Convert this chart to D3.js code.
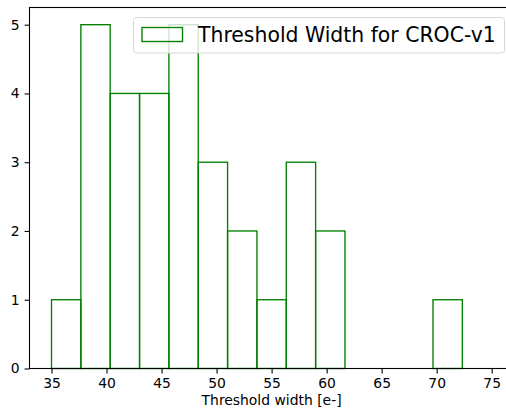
<!DOCTYPE html>
<html>
<head>
<meta charset="utf-8">
<script src="https://cdn.jsdelivr.net/npm/d3@7"></script>
<style>
  body { margin: 0; background: #fff; }
  svg { display: block; font-family: "DejaVu Sans", sans-serif; }
</style>
</head>
<body>
<svg id="chart" width="506" height="409"></svg>
<script>
// histogram bins (edges) and counts
const binEdges = [35, 37.667, 40.333, 43, 45.667, 48.333, 51, 53.667, 56.333, 59, 61.667, 64.333, 67, 69.667, 72.333, 75];
const counts = [1, 5, 4, 4, 5, 3, 2, 1, 3, 2, 0, 0, 0, 1, 0];
const xTicks = [35, 40, 45, 50, 55, 60, 65, 70, 75];
const yTicks = [0, 1, 2, 3, 4, 5];
const legendLabel = "Threshold Width for CROC-v1";
const xLabel = "Threshold width [e-]";

let svg = d3.select("#chart");
let margin = { left: 29.5, top: 7.5 };
let plotW = 484.2, plotH = 361;

let x = d3.scaleLinear().domain([33, 77]).range([margin.left, margin.left + plotW]);
let y = d3.scaleLinear().domain([0, 5.25]).range([margin.top + plotH, margin.top]);

let bins = counts.map(function (c, i) {
    return { x0: binEdges[i], x1: binEdges[i + 1], count: c };
});

// bars
svg.append("g")
    .selectAll("rect")
    .data(bins.filter(function (d) { return d.count > 0; }))
    .join("rect")
    .attr("x", function (d) { return x(d.x0); })
    .attr("y", function (d) { return y(d.count); })
    .attr("width", function (d) { return x(d.x1) - x(d.x0); })
    .attr("height", function (d) { return y(0) - y(d.count); })
    .attr("fill", "none")
    .attr("stroke", "#008000")
    .attr("stroke-width", 1.35);

// axes
let xAxis = svg.append("g")
    .attr("transform", "translate(0," + (margin.top + plotH) + ")")
    .call(d3.axisBottom(x).tickValues(xTicks).tickSize(4.9).tickPadding(4.9).tickFormat(d3.format("d")));
let yAxis = svg.append("g")
    .attr("transform", "translate(" + margin.left + ",0)")
    .call(d3.axisLeft(y).tickValues(yTicks).tickSize(4.9).tickPadding(4.9).tickFormat(d3.format("d")));

[xAxis, yAxis].forEach(function (g) {
    g.select(".domain").remove();
    g.selectAll("line").attr("stroke", "#000").attr("stroke-width", 1.1);
    g.selectAll("text").attr("font-size", "13.9px").attr("fill", "#000")
        .attr("font-family", "DejaVu Sans");
});

// spines
let frame = svg.append("g").attr("fill", "none").attr("stroke", "#000").attr("stroke-width", 1.1);
frame.append("rect")
    .attr("x", margin.left).attr("y", margin.top)
    .attr("width", plotW).attr("height", plotH);

// x label
svg.append("text")
    .attr("x", margin.left + plotW / 2)
    .attr("y", 405)
    .attr("text-anchor", "middle")
    .attr("font-size", "13.9px")
    .text(xLabel);

// legend
let lg = svg.append("g");
lg.append("rect")
    .attr("x", 133.5).attr("y", 17.5)
    .attr("width", 371).attr("height", 35.5)
    .attr("rx", 3)
    .attr("fill", "#fff").attr("fill-opacity", 0.8)
    .attr("stroke", "#d6d6d6").attr("stroke-width", 1);
lg.append("rect")
    .attr("x", 142).attr("y", 27.5)
    .attr("width", 40.5).attr("height", 14)
    .attr("fill", "none")
    .attr("stroke", "#008000").attr("stroke-width", 1.35);
lg.append("text")
    .attr("x", 198)
    .attr("y", 41.5)
    .attr("font-size", "20.4px")
    .attr("fill", "#000")
    .text(legendLabel);
</script>
</body>
</html>
